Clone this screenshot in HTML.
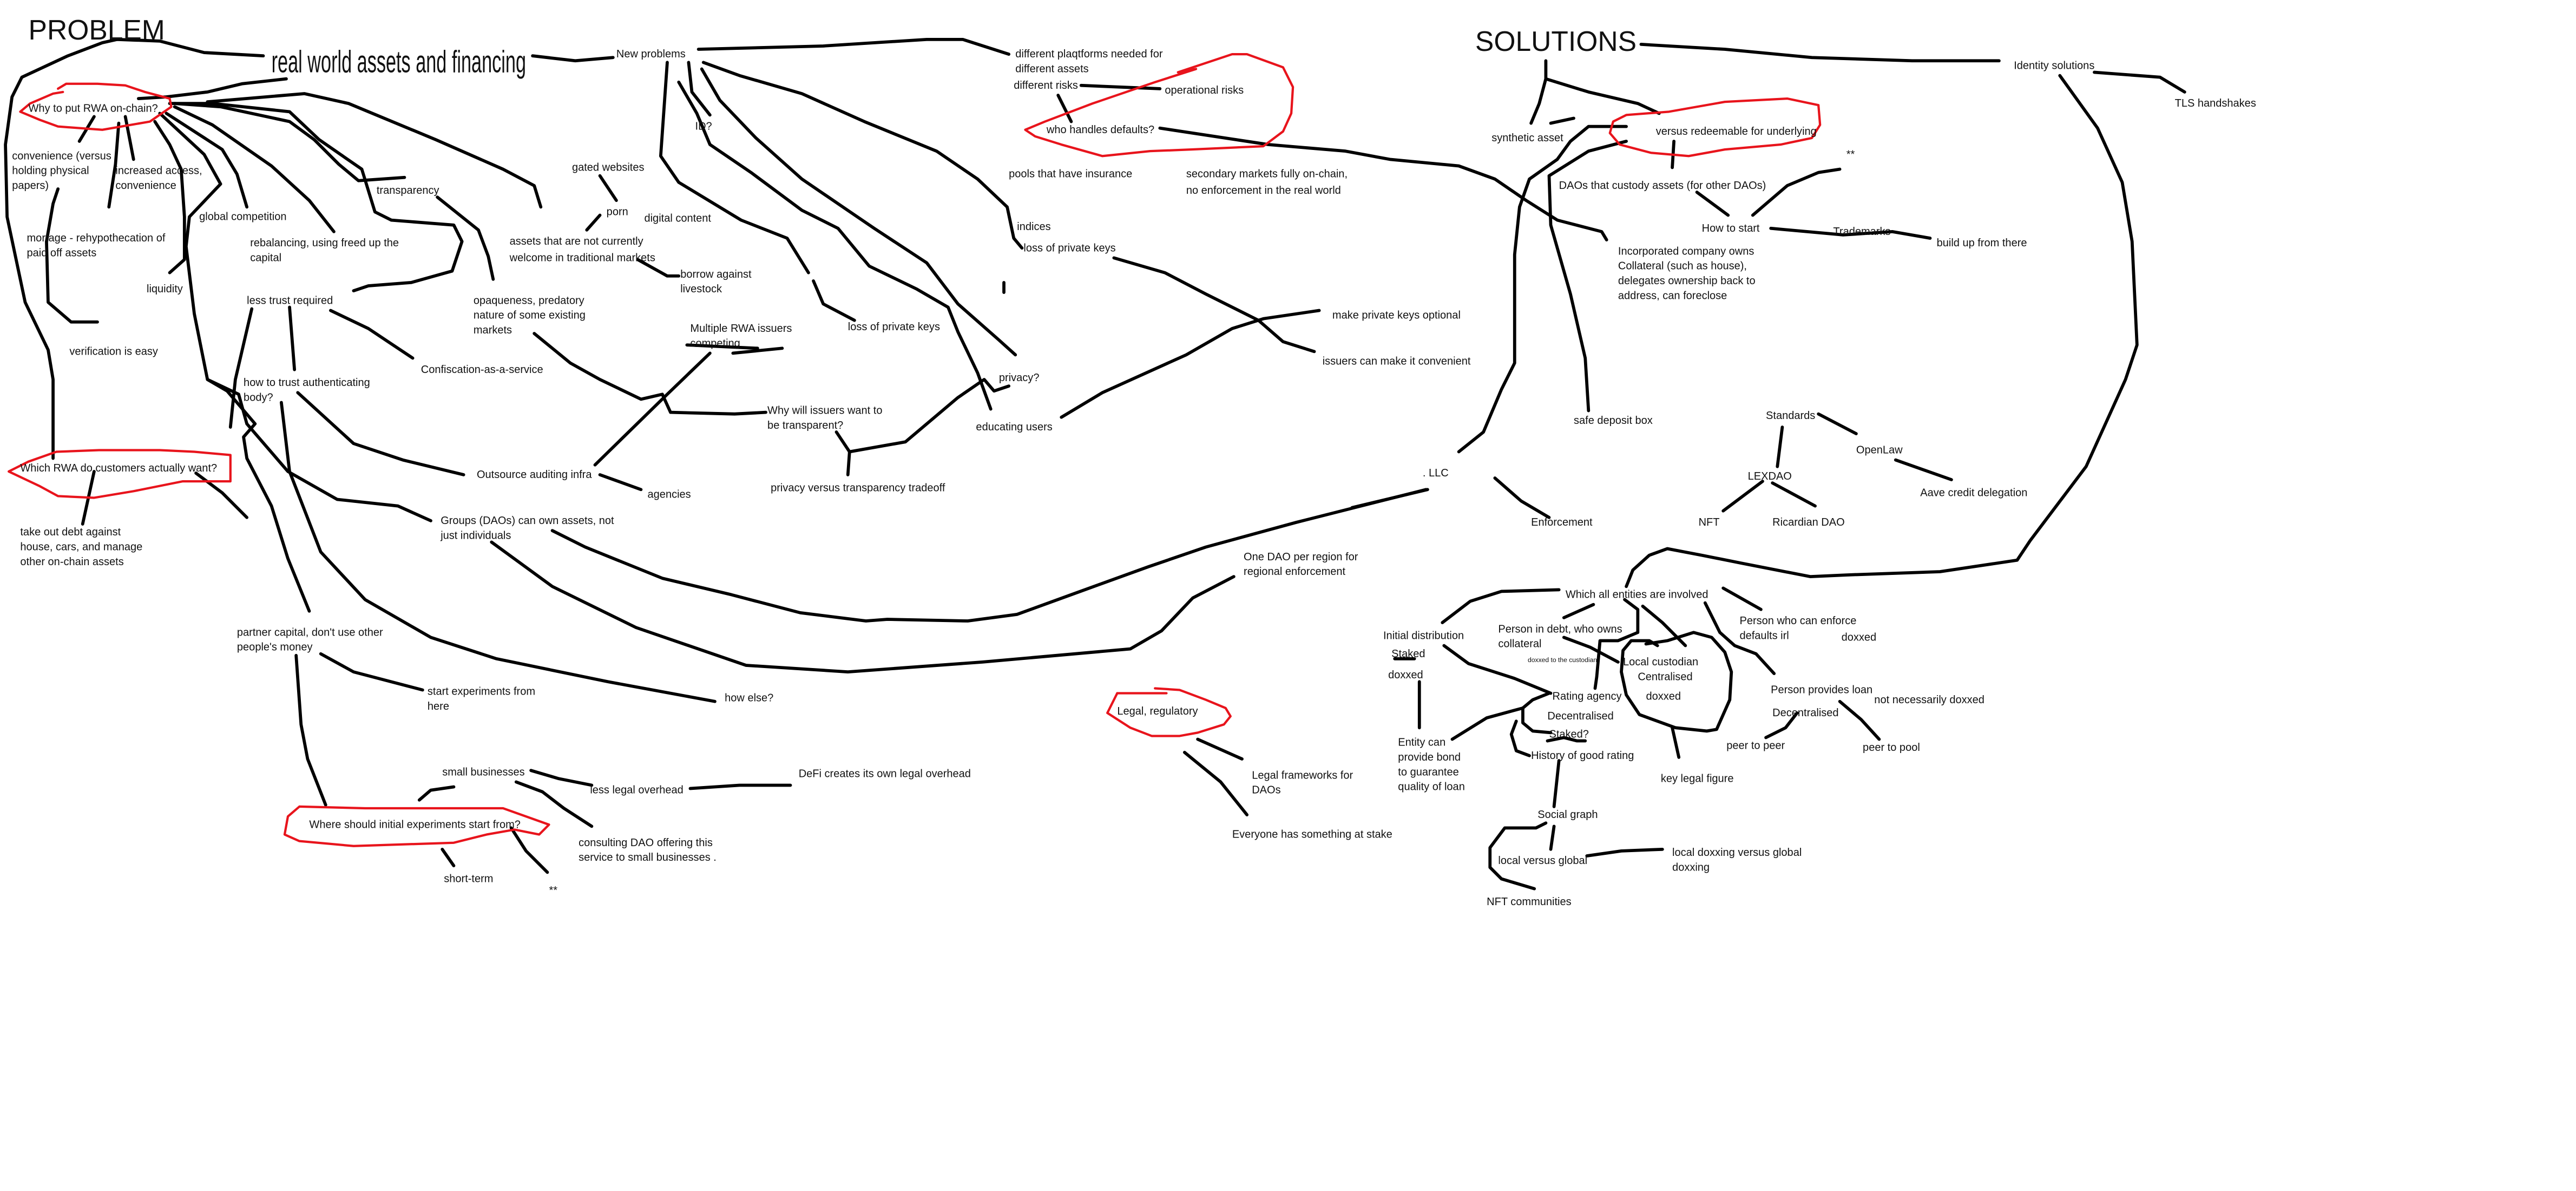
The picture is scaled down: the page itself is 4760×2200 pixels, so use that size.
<!DOCTYPE html>
<html><head><meta charset="utf-8"><style>
html,body{margin:0;padding:0;background:#fff}
svg{display:block}
text{font-family:"Liberation Sans Narrow","Liberation Sans",sans-serif;font-size:6.6px;fill:#111}
.k polyline{fill:none;stroke:#000;stroke-width:1.9;stroke-linecap:round;stroke-linejoin:round}
.r polyline{fill:none;stroke:#e8141c;stroke-width:1.4;stroke-linecap:round;stroke-linejoin:round}
</style></head><body>
<svg width="4760" height="2200" viewBox="0 0 1568 725" xmlns="http://www.w3.org/2000/svg">
<g class="k">
<!-- left big -->
<polyline points="160,34 124,32 97,25 71,24 62,26 41,34 13,47 7,59 3,88 4,132 15,184 29,213 32,231 32,279"/>
<polyline points="84,60 101,59 126,56 147,51 174,48"/>
<polyline points="48,86 57,71"/>
<polyline points="66,126 70,100 72,75"/>
<polyline points="81,97 76,71"/>
<polyline points="94,74 103,88 110,103 112,132 112,158 103,166"/>
<polyline points="97,69 124,94 134,112 115,132 113,150 118,191 126,231 138,238 155,258 148,266 150,279 165,308 175,340 188,372"/>
<polyline points="126,231 145,240 150,258 175,287 205,304 242,308 262,317"/>
<polyline points="171,245 176,287 195,336 222,365 262,388 302,401 370,415 435,427"/>
<polyline points="181,239 215,270 245,280 282,289"/>
<polyline points="119,288 135,300 150,315"/>
<polyline points="57,287 50,319"/>
<polyline points="180,399 183,441 187,462 198,490"/>
<polyline points="195,398 215,409 257,420"/>
<polyline points="336,323 356,333 403,352 445,362 487,373 527,378 540,377 589,378 619,374 652,362 699,345 734,333 789,318 868,298"/>
<polyline points="299,330 336,357 387,382 454,405 516,409 598,403 688,395 707,384 726,364 751,351"/>
<polyline points="255,487 262,481 276,479"/>
<polyline points="323,469 340,474 360,478"/>
<polyline points="314,476 330,482 343,492 360,503"/>
<polyline points="420,480 450,478 481,478"/>
<polyline points="269,517 276,527"/>
<polyline points="311,504 320,518 333,531"/>
<polyline points="59,196 43,196 29,184 28,147 32,124 35,115"/>
<polyline points="103,63 129,63 176,68 194,85 220,103 228,129 238,134 276,137 281,147 275,165 250,172 224,174 215,177"/>
<polyline points="106,63 134,65 176,74 191,85 206,100 218,110 246,108"/>
<polyline points="126,62 185,57 212,63 265,85 306,103 325,113 329,126"/>
<polyline points="106,65 129,76 165,101 188,122 203,141"/>
<polyline points="101,69 135,91 144,106 150,126"/>
<polyline points="266,120 291,140 297,156 300,170"/>
<polyline points="365,107 375,122"/>
<polyline points="365,131 357,140"/>
<polyline points="388,158 406,168 413,168"/>
<polyline points="176,187 179,225"/>
<polyline points="201,189 224,200 251,218"/>
<polyline points="153,188 143,231 140,260"/>
<polyline points="325,203 347,221 365,231 390,243 403,240 408,251 447,252 466,251"/>
<polyline points="418,210 461,212"/>
<polyline points="446,215 476,212"/>
<polyline points="432,215 406,240 362,283"/>
<polyline points="365,289 390,298"/>
<polyline points="324,34 350,37 373,35"/>
<!-- new problems -->
<polyline points="425,30 501,28 564,24 586,24 614,33"/>
<polyline points="406,38 402,95 413,111 451,134 479,145 492,166"/>
<polyline points="495,171 501,185 520,195"/>
<polyline points="419,38 421,56 432,70"/>
<polyline points="413,50 424,69 432,88 457,105 488,128 510,139 529,162 558,176 577,187 583,202 595,227 603,249"/>
<polyline points="427,42 438,61 460,84 488,109 532,139 564,160 583,185 608,207 618,216"/>
<polyline points="428,38 450,46 488,57 526,74 570,92 595,109 613,126 617,145 622,151"/>
<polyline points="611,172 611,178"/>
<polyline points="658,52 706,54"/>
<polyline points="644,58 652,74"/>
<polyline points="706,78 772,88 819,92 846,97 888,101 910,109 929,122 948,134 975,141 978,146"/>
<polyline points="678,157 709,166 734,179 766,195 781,208 800,214"/>
<polyline points="646,254 671,239 722,216 750,200 769,194 803,189"/>
<polyline points="614,235 605,238 599,231 583,242 551,269 517,275 509,263"/>
<polyline points="517,275 516,289"/>
<!-- solutions -->
<polyline points="999,27 1050,30 1103,35 1164,37 1217,37"/>
<polyline points="1275,44 1315,47 1330,56"/>
<polyline points="1254,46 1277,78 1292,111 1298,147 1301,210 1294,231 1270,284 1236,329 1228,341 1181,348 1124,350 1102,351 1061,343 1036,338 1015,334 1004,338 994,347 990,357"/>
<polyline points="941,37 941,48 937,63 932,75"/>
<polyline points="941,48 967,56 997,63 1010,69"/>
<polyline points="944,75 958,72"/>
<polyline points="990,77 967,77 956,86 948,97 931,109 925,126 922,155 922,221 914,237 903,263 888,275"/>
<polyline points="990,86 967,92 943,107 944,137 956,179 965,218 967,250"/>
<polyline points="1019,86 1018,102"/>
<polyline points="1033,117 1052,131"/>
<polyline points="1067,131 1088,113 1107,105 1120,103"/>
<polyline points="1078,139 1122,143 1152,141 1175,145"/>
<polyline points="910,291 926,305 943,315"/>
<polyline points="869,298 823,309"/>
<polyline points="1107,252 1130,264"/>
<polyline points="1085,260 1082,284"/>
<polyline points="1154,280 1188,292"/>
<polyline points="1073,293 1049,311"/>
<polyline points="1079,294 1105,308"/>
<!-- entities -->
<polyline points="949,359 914,360 895,366 878,379"/>
<polyline points="879,393 894,404 922,413 944,422"/>
<polyline points="849,401 861,401"/>
<polyline points="864,415 864,443"/>
<polyline points="884,450 905,437 927,431 927,440 933,445 944,446"/>
<polyline points="943,422 933,426 927,431"/>
<polyline points="923,439 920,447 923,457 931,460"/>
<polyline points="942,451 952,449 960,451 965,451"/>
<polyline points="970,368 952,376"/>
<polyline points="952,388 968,394 985,403"/>
<polyline points="989,365 997,371 997,385 985,390 974,390 972,412 971,419"/>
<polyline points="1000,369 1012,379 1026,393"/>
<polyline points="1002,392 1015,390 1031,385 1042,388 1050,397 1054,409 1053,426 1045,444 1039,445 1020,443 998,435 990,423 987,409 988,396 993,390 1004,390 1009,393"/>
<polyline points="1018,443 1022,461"/>
<polyline points="1038,367 1047,385 1056,393 1069,398 1080,410"/>
<polyline points="1049,358 1072,371"/>
<polyline points="1120,427 1133,438 1144,450"/>
<polyline points="1094,434 1087,443 1075,449"/>
<polyline points="949,463 946,491"/>
<polyline points="946,503 944,517"/>
<polyline points="941,501 935,504 916,504 907,516 907,528 914,535 934,541"/>
<polyline points="966,521 987,518 1012,517"/>
<polyline points="729,450 756,462"/>
<polyline points="721,458 743,476 759,496"/>
</g>
<g class="r">
<polyline points="35,54 40,51 59,51 76,52 88,56 103,60 104,65 91,74 62,79 35,77 24,73 12,68 18,63 32,57 38,56"/>
<polyline points="34,275 60,274 97,274 118,275 140,277 140,293 111,293 81,299 57,303 35,302 24,296 5,287 17,281 34,275"/>
<polyline points="182,491 222,492 306,492 334,502 328,508 313,505 296,508 276,513 215,515 182,512 173,508 175,497 182,491"/>
<polyline points="680,422 710,422"/>
<polyline points="703,419 718,420 734,426 746,431 749,436 745,441 729,446 718,448 701,448 688,443 674,434 680,422"/>
<polyline points="624,79 636,74 665,63 703,50 728,42 717,44 750,33 759,33 781,41 787,53 786,69 781,80 769,89 725,91 700,92 671,95 646,88 630,83 624,79"/>
<polyline points="982,74 990,70 1016,68 1050,62 1088,60 1107,64 1108,76 1103,84 1084,88 1050,91 1028,95 1005,93 986,88 980,81 982,74"/>
</g>
<text x="17" y="24" style="font-size:17px">PROBLEM</text>
<text x="165" y="44" style="font-size:19px" textLength="155" lengthAdjust="spacingAndGlyphs">real world assets and financing</text>
<text x="898" y="31" style="font-size:17px">SOLUTIONS</text>
<text x="17" y="68">Why to put RWA on-chain?</text>
<text x="7" y="97">convenience (versus</text><text x="7" y="106">holding physical</text><text x="7" y="115">papers)</text>
<text x="70" y="106">increased access,</text><text x="70" y="115">convenience</text>
<text x="121" y="134">global competition</text>
<text x="16" y="147">mortage - rehypothecation of</text><text x="16" y="156">paid off assets</text>
<text x="89" y="178">liquidity</text>
<text x="152" y="150">rebalancing, using freed up the</text><text x="152" y="159">capital</text>
<text x="229" y="118">transparency</text>
<text x="150" y="185">less trust required</text>
<text x="42" y="216">verification is easy</text>
<text x="348" y="104">gated websites</text>
<text x="369" y="131">porn</text>
<text x="392" y="135">digital content</text>
<text x="310" y="149">assets that are not currently</text><text x="310" y="159">welcome in traditional markets</text>
<text x="414" y="169">borrow against</text><text x="414" y="178">livestock</text>
<text x="288" y="185">opaqueness, predatory</text><text x="288" y="194">nature of some existing</text><text x="288" y="203">markets</text>
<text x="256" y="227">Confiscation-as-a-service</text>
<text x="420" y="202">Multiple RWA issuers</text><text x="420" y="211">competing</text>
<text x="148" y="235">how to trust authenticating</text><text x="148" y="244">body?</text>
<text x="12" y="287">Which RWA do customers actually want?</text>
<text x="12" y="326">take out debt against</text><text x="12" y="335">house, cars, and manage</text><text x="12" y="344">other on-chain assets</text>
<text x="290" y="291">Outsource auditing infra</text>
<text x="394" y="303">agencies</text>
<text x="268" y="319">Groups (DAOs) can own assets, not</text><text x="268" y="328">just individuals</text>
<text x="467" y="252">Why will issuers want to</text><text x="467" y="261">be transparent?</text>
<text x="469" y="299">privacy versus transparency tradeoff</text>
<text x="144" y="387">partner capital, don't use other</text><text x="144" y="396">people's money</text>
<text x="260" y="423">start experiments from</text><text x="260" y="432">here</text>
<text x="441" y="427">how else?</text>
<text x="269" y="472">small businesses</text>
<text x="359" y="483">less legal overhead</text>
<text x="486" y="473">DeFi creates its own legal overhead</text>
<text x="188" y="504">Where should initial experiments start from?</text>
<text x="352" y="515">consulting DAO offering this</text><text x="352" y="524">service to small businesses .</text>
<text x="270" y="537">short-term</text>
<text x="334" y="544">**</text>
<text x="375" y="35">New problems</text>
<text x="423" y="79">ID?</text>
<text x="618" y="35">different plaqtforms needed for</text><text x="618" y="44">different assets</text>
<text x="617" y="54">different risks</text>
<text x="709" y="57">operational risks</text>
<text x="637" y="81">who handles defaults?</text>
<text x="614" y="108">pools that have insurance</text>
<text x="722" y="108">secondary markets fully on-chain,</text><text x="722" y="118">no enforcement in the real world</text>
<text x="619" y="140">indices</text>
<text x="623" y="153">loss of private keys</text>
<text x="516" y="201">loss of private keys</text>
<text x="811" y="194">make private keys optional</text>
<text x="805" y="222">issuers can make it convenient</text>
<text x="608" y="232">privacy?</text>
<text x="594" y="262">educating users</text>
<text x="757" y="341">One DAO per region for</text><text x="757" y="350">regional enforcement</text>
<text x="680" y="435">Legal, regulatory</text>
<text x="762" y="474">Legal frameworks for</text><text x="762" y="483">DAOs</text>
<text x="750" y="510">Everyone has something at stake</text>
<text x="1226" y="42">Identity solutions</text>
<text x="1324" y="65">TLS handshakes</text>
<text x="908" y="86">synthetic asset</text>
<text x="1008" y="82">versus redeemable for underlying</text>
<text x="1124" y="96">**</text>
<text x="949" y="115">DAOs that custody assets (for other DAOs)</text>
<text x="1036" y="141">How to start</text>
<text x="1116" y="143">Trademarks</text>
<text x="1179" y="150">build up from there</text>
<text x="985" y="155">Incorporated company owns</text><text x="985" y="164">Collateral (such as house),</text><text x="985" y="173">delegates ownership back to</text><text x="985" y="182">address, can foreclose</text>
<text x="958" y="258">safe deposit box</text>
<text x="1075" y="255">Standards</text>
<text x="1130" y="276">OpenLaw</text>
<text x="866" y="290">. LLC</text>
<text x="1064" y="292">LEXDAO</text>
<text x="1169" y="302">Aave credit delegation</text>
<text x="932" y="320">Enforcement</text>
<text x="1034" y="320">NFT</text>
<text x="1079" y="320">Ricardian DAO</text>
<text x="953" y="364">Which all entities are involved</text>
<text x="842" y="389">Initial distribution</text>
<text x="912" y="385">Person in debt, who owns</text><text x="912" y="394">collateral</text>
<text x="1059" y="380">Person who can enforce</text><text x="1059" y="389">defaults irl</text>
<text x="1121" y="390">doxxed</text>
<text x="847" y="400">Staked</text>
<text x="930" y="403" style="font-size:4px">doxxed to the custodian</text>
<text x="988" y="405">Local custodian</text>
<text x="997" y="414">Centralised</text>
<text x="845" y="413">doxxed</text>
<text x="1002" y="426">doxxed</text>
<text x="945" y="426">Rating agency</text>
<text x="1078" y="422">Person provides loan</text>
<text x="1141" y="428">not necessarily doxxed</text>
<text x="942" y="438">Decentralised</text>
<text x="1079" y="436">Decentralised</text>
<text x="943" y="449">Staked?</text>
<text x="851" y="454">Entity can</text><text x="851" y="463">provide bond</text><text x="851" y="472">to guarantee</text><text x="851" y="481">quality of loan</text>
<text x="932" y="462">History of good rating</text>
<text x="1051" y="456">peer to peer</text>
<text x="1134" y="457">peer to pool</text>
<text x="1011" y="476">key legal figure</text>
<text x="936" y="498">Social graph</text>
<text x="912" y="526">local versus global</text>
<text x="1018" y="521">local doxxing versus global</text><text x="1018" y="530">doxxing</text>
<text x="905" y="551">NFT communities</text>
</svg>
</body></html>
